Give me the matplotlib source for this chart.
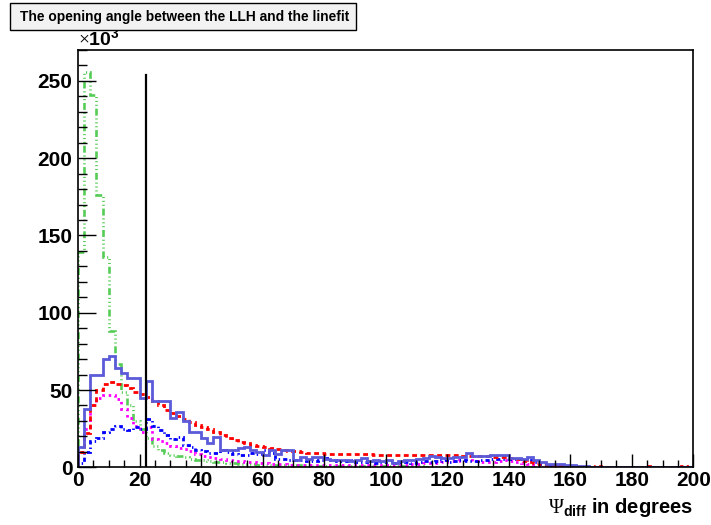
import numpy as np
import matplotlib
matplotlib.use("Agg")
import matplotlib.pyplot as plt
from matplotlib.patches import Rectangle
from matplotlib.ticker import MultipleLocator

plt.rcParams['font.family'] = ['Liberation Sans', 'DejaVu Sans']
plt.rcParams['mathtext.fontset'] = 'custom'
plt.rcParams['mathtext.rm'] = 'Liberation Serif'
plt.rcParams['mathtext.bf'] = 'Liberation Sans:bold'
plt.rcParams['lines.scale_dashes'] = False

# opening angle histograms, 2 degree bins from 0 to 200, counts in units of 10^3
bin_edges = np.linspace(0, 200, 101)

llh_solid = [13, 38, 60, 60, 70, 72, 64, 61, 58, 58, 45, 56,
             43, 43, 43,
             32, 35.5, 30, 23, 23, 19, 16, 19.5, 11.5, 11.5, 11.5, 12.5,
             13, 11, 10, 7.8, 11, 8.8, 11.4, 11.4, 4.5, 6.7, 5.6, 6.7, 6.7, 5.6, 5, 4.5,
             5, 4, 5, 6, 4, 5, 4, 5, 3, 4,
             4.5, 5, 5.6, 6.2, 7.1, 6.7, 6.2, 6.2, 6.7, 6.7, 9.5, 7.1, 7.5, 7.5, 7.8, 8.2, 8.2, 6.2, 6.2, 5.6, 6.7,
             5, 3.4, 2.4, 2.4, 2, 1.5, 1.3, 0.8, 0.6,
             0.5, 0.5, 0.4, 0.4, 0.4, 0.3, 0.3, 0.3, 0.3, 0.2, 0.2, 0.2, 0.2, 0.2, 0.1, 0.1, 0.1]

red_dashed = [10, 22, 40, 50, 54, 55, 54, 53, 51.5, 49,
              47.5, 45.5, 43, 40, 37, 35, 33, 31, 29.5, 27.5,
              26, 24.5, 23, 21, 19, 17.5, 16.5, 15.5, 14.5, 13.8,
              13.2, 12.8, 12, 11.2, 10.8, 10.4, 9.8, 9.4, 9.2, 9.0,
              8.9, 8.8, 8.5,
              8.4, 8.4, 8.3, 8.3, 8.3, 8.2, 8.2, 8.2, 8.2, 8.2,
              8.1, 8.1, 8.0, 8.0, 8.0,
              7.9, 7.8, 7.8, 7.7, 7.6,
              7.5, 7.4, 7.2, 7.0, 6.8,
              6.7, 6.5, 6.2, 5.2, 4.2, 3.4, 2.6, 2.2, 1.6, 1.2, 0.9, 0.7, 0.6,
              0.5, 0.4, 0.4, 0.9, 0.3, 0.3, 0.3, 0.2, 0.2, 0.2, 0.2, 0.8, 0.2, 0.1, 0.1, 0.1, 0.1, 0.6, 0.1]

magenta_dotted = [10, 25, 40, 45, 46.5, 46.5, 44, 38, 32, 27,
                  23, 26, 18, 17, 16, 14, 12.7, 12, 10.5, 8.8,
                  7.5, 6.7, 5.8, 5.2, 4.6, 4.2, 3.8, 3.5, 3.2, 3.0,
                  2.6, 2.4, 2.2, 2.0, 1.8, 1.8, 1.6, 1.6, 1.5, 1.5, 1.4, 1.4, 1.3, 1.3, 1.3, 1.2, 1.2, 1.2, 1.3, 1.3, 1.4,
                  1.5, 1.6, 1.8, 2.0, 2.2, 2.5, 2.8, 3.0, 3.4, 3.8,
                  4.2, 4.5, 4.4, 4.0, 3.6, 3.4, 3.6, 4.0, 4.4, 4.2, 3.6, 3.0, 2.4,
                  1.8, 1.3, 0.9, 0.6, 0.4, 0.3, 0.3, 0.2, 0.2, 0.2,
                  0.2, 0.1, 0.1, 0.1, 0.1, 0.1, 0.1, 0.1, 0.1, 0.1,
                  0.1, 0.1, 0.1, 0.1, 0.1, 0.1]

blue_dashdot = [3, 10, 17, 19, 23, 25, 27, 25, 24, 26,
                25, 31, 27, 24, 21, 18.5, 19.5, 14.5, 13, 11.5,
                10.5, 9.5, 9.2, 11, 10, 8.8, 8, 7.8, 9.2, 8.5,
                11, 9, 5.6, 5.2, 5, 4.6, 4.5, 4.2, 3.9, 4.5,
                6.3, 4.5, 3.9,
                3.8, 4.4, 3.2, 3.6, 4.0, 3.1, 3.4, 3.9, 3.0, 3.4,
                3.5, 2.9, 3.6, 4.2, 3.3, 3.9, 4.4, 3.6, 4.1, 4.6,
                4.0, 4.3, 4.6, 5.0, 5.4, 5.6, 5.4, 5.2, 5.4, 5.6,
                4.5, 3.4, 2.4, 1.6, 1.1, 0.8, 0.6, 0.4, 0.4, 0.3,
                0.3, 0.3, 0.2, 0.2, 0.2, 0.2, 0.2, 0.1, 0.1, 0.1,
                0.1, 0.1, 0.1, 0.1, 0.1, 0.1, 0.1]

green_dashdotdot = [139, 256, 241, 176, 136, 88, 67, 49, 40, 30,
                    25, 19, 14, 11, 9.5, 8, 7, 6.5, 5.6, 5,
                    4.5, 4, 3.6, 3.4, 3.0, 2.7, 2.4, 2.2, 2.0, 1.8,
                    1.7, 1.6, 1.5, 1.5, 1.4, 1.3, 1.3, 1.2, 1.1, 1.0,
                    1.0, 0.9, 0.9, 0.9, 0.8, 0.8, 0.8, 0.7, 0.7, 0.7,
                    0.7, 0.6, 0.6, 0.6, 0.6, 0.6, 0.5, 0.5, 0.5, 0.5,
                    0.5, 0.5, 0.5, 0.5, 0.5, 0.5, 0.5, 0.5, 0.5, 0.5,
                    0.4, 0.4, 0.4, 0.4, 0.4, 0.4, 0.4, 0.4, 0.4, 0.4,
                    0.2, 0.2, 0.2, 0.2, 0.2, 0.2, 0.2, 0.2, 0.2, 0.2,
                    0.1, 0.1, 0.1, 0.1, 0.1, 0.1, 0.1, 0.1, 0.1, 0.1]

# cut position and its line height
cut_angle = 22
cut_top = 254

fig = plt.figure(figsize=(7.11, 5.25), dpi=100)
ax = fig.add_axes([78 / 711, 1 - 467.3 / 525, 615.3 / 711, 417.3 / 525])

ax.stairs(green_dashdotdot, bin_edges, color='#55cc55', lw=1.9,
          linestyle=(0, (5, 2, 0.8, 2, 0.8, 2, 0.8, 2)))
ax.stairs(magenta_dotted, bin_edges, color='#ff00ff', lw=2.0, linestyle=(0, (1.8, 2.8)))
ax.stairs(blue_dashdot, bin_edges, color='#0000ff', lw=2.0, linestyle=(0, (3, 2.2, 1, 2.2)))
ax.stairs(red_dashed, bin_edges, color='#ff0000', lw=2.0, linestyle=(0, (3.5, 2.5)))
ax.stairs(llh_solid, bin_edges, color='#5b5bd9', lw=2.0)

ax.plot([cut_angle, cut_angle], [0, cut_top], color='black', lw=1.6)

ax.set_xlim(0, 200)
ax.set_ylim(0, 270)

ax.xaxis.set_major_locator(MultipleLocator(20))
ax.xaxis.set_minor_locator(MultipleLocator(5))
ax.yaxis.set_major_locator(MultipleLocator(50))
ax.yaxis.set_minor_locator(MultipleLocator(10))
ax.tick_params(axis='both', which='both', direction='in', top=False, right=False, width=1)
ax.tick_params(axis='y', which='major', length=13, pad=4)
ax.tick_params(axis='y', which='minor', length=6.5)
ax.tick_params(axis='x', which='major', length=9.5, pad=3)
ax.tick_params(axis='x', which='minor', length=5)
for lab in ax.get_xticklabels() + ax.get_yticklabels():
    lab.set_fontsize(15)
    lab.set_fontweight('bold')
for sp in ax.spines.values():
    sp.set_linewidth(1.2)

ax.text(0, 1.003, r'$\times\mathbf{10^{3}}$', transform=ax.transAxes, fontsize=14,
        ha='left', va='bottom')

ax.text(1.0, -0.068, r'$\Psi_{\mathbf{diff}}$ in degrees', transform=ax.transAxes,
        fontsize=14.5, fontweight='bold', ha='right', va='top')

# title box
fig.patches.append(Rectangle((10 / 711, 1 - 30 / 525), 346 / 711, 27 / 525,
                             transform=fig.transFigure, facecolor='#f2f2f2',
                             edgecolor='black', lw=1))
fig.text(185 / 711, 1 - 16.5 / 525, 'The opening angle between the LLH and the linefit',
         fontsize=9.9, fontweight='bold', ha='center', va='center')

fig.savefig('out.png', dpi=100)
